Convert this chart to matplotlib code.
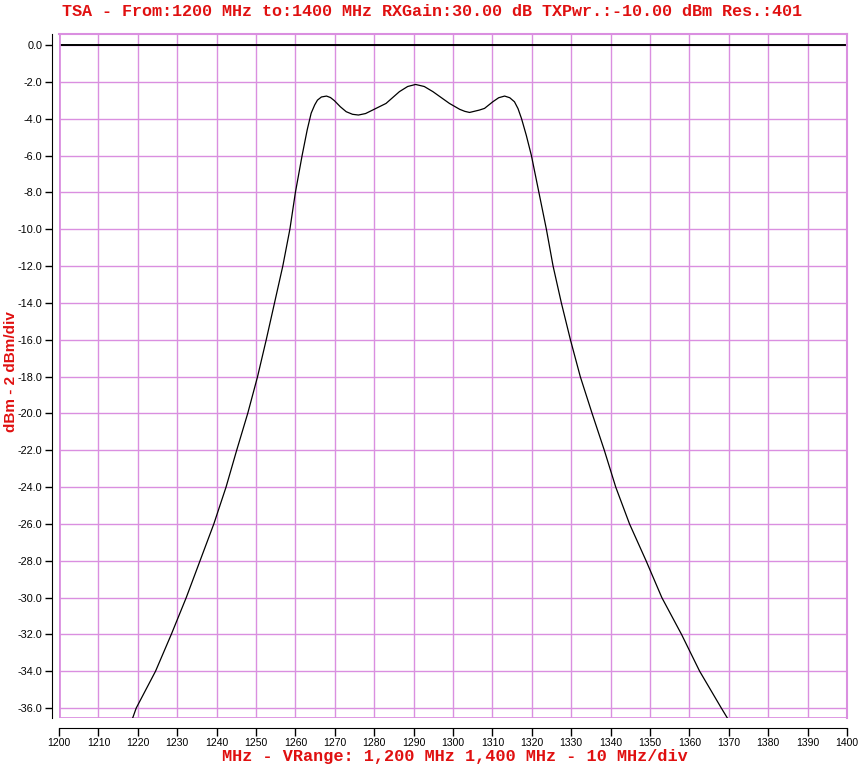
"""
TSA sweep plot: filter response 1200-1400 MHz.
"""

import matplotlib
matplotlib.use("Agg")
import matplotlib.pyplot as plt

# sweep (MHz, dBm)
freq_mhz = [
    1218.6, 1219.6, 1224.5, 1228.5, 1232.3, 1235.8, 1239.3, 1242.4, 1245.1,
    1247.9, 1250.4, 1252.6, 1254.7, 1256.8, 1258.6, 1260.0, 1261.7, 1263.0,
    1264.0, 1264.9, 1265.6, 1266.6, 1267.9, 1268.9, 1269.9, 1271.4, 1272.9,
    1274.5, 1276.0, 1277.8, 1279.6, 1283.0, 1286.4, 1288.5, 1290.5, 1292.7,
    1294.9, 1299.1, 1301.7, 1303.0, 1304.2, 1306.7, 1308.0, 1310.1, 1311.6,
    1313.1, 1314.4, 1315.6, 1316.5, 1317.4, 1318.6, 1319.9, 1321.8, 1323.7,
    1325.4, 1327.5, 1329.8, 1332.3, 1335.3, 1338.4, 1341.3, 1344.8, 1349.0,
    1353.0, 1358.0, 1362.6, 1368.1, 1369.8,
]
level_dbm = [
    -36.6, -36.0, -34.0, -32.0, -30.0, -28.0, -26.0, -24.0, -22.0,
    -20.0, -18.0, -16.0, -14.0, -12.0, -10.0, -8.0, -6.0, -4.6,
    -3.7, -3.25, -2.99, -2.82, -2.77, -2.85, -3.02, -3.35, -3.62,
    -3.76, -3.8, -3.72, -3.53, -3.17, -2.53, -2.25, -2.14, -2.25,
    -2.53, -3.17, -3.49, -3.6, -3.66, -3.53, -3.44, -3.08, -2.86,
    -2.77, -2.86, -3.08, -3.45, -4.0, -4.9, -6.0, -8.0, -10.0,
    -12.0, -14.0, -16.0, -18.0, -20.0, -22.0, -24.0, -26.0, -28.0,
    -30.0, -32.0, -34.0, -36.0, -36.6,
]

x_ticks = list(range(1200, 1401, 10))
y_ticks = [-2.0 * i for i in range(19)]

title = "TSA - From:1200 MHz to:1400 MHz RXGain:30.00 dB TXPwr.:-10.00 dBm Res.:401"
x_label = "MHz - VRange: 1,200 MHz 1,400 MHz - 10 MHz/div"
y_label = "dBm - 2 dBm/div"

RED = "#e01010"
GRID = "#da8fe0"

fig = plt.figure(figsize=(8.64, 7.67), dpi=100)
ax = fig.add_axes([59 / 864, 1 - 718 / 767, 788 / 864, 684 / 767])

ax.plot(freq_mhz, level_dbm, color="black", linewidth=0.9, zorder=3)
ax.axhline(0.0, color="black", linewidth=1.4, zorder=2)

ax.set_xlim(1200, 1400)
ax.set_ylim(-36.54, 0.6)
ax.set_xticks(x_ticks)
ax.set_yticks(y_ticks)
ax.set_yticklabels([f"{abs(v):.1f}" if v == 0 else f"{v:.1f}" for v in y_ticks])
ax.grid(True, color=GRID, linewidth=1.0)
ax.axhline(-36.54, color=GRID, linewidth=2.0)
ax.axvline(1200, color=GRID, linewidth=2.0)

for side in ("top", "right"):
    ax.spines[side].set_color(GRID)
    ax.spines[side].set_linewidth(1.5)
ax.spines["left"].set_position(("outward", 5))
ax.spines["bottom"].set_position(("outward", 7))
ax.tick_params(axis="y", length=5, width=1, labelsize=7.8, pad=2)
ax.tick_params(axis="x", length=6, width=1, labelsize=7.5, pad=1.5)
for lab in ax.get_xticklabels() + ax.get_yticklabels():
    lab.set_fontfamily("Liberation Sans")

fig.text(432 / 864, 1 - 12 / 767, title, ha="center", va="center", color=RED,
         fontsize=12.1, family="Liberation Mono", fontweight="bold")
fig.text(455 / 864, 1 - 757 / 767, x_label, ha="center", va="center", color=RED,
         fontsize=12.2, family="Liberation Mono", fontweight="bold")
fig.text(11 / 864, 1 - 372 / 767, y_label, ha="center", va="center",
         rotation=90, color=RED, fontsize=11, family="Liberation Sans",
         fontweight="bold")

fig.savefig("out.png", dpi=100)
